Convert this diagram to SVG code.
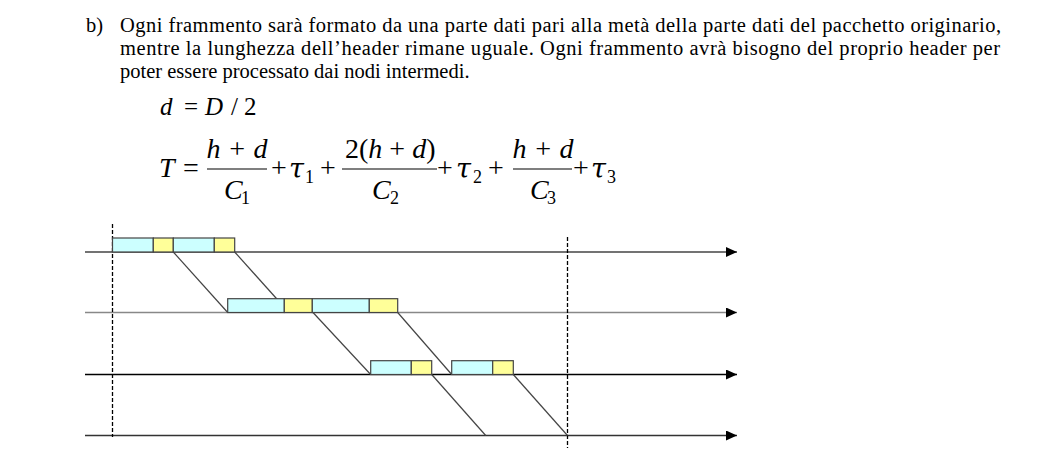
<svg xmlns="http://www.w3.org/2000/svg" width="1058" height="468" viewBox="0 0 1058 468">
<defs>
<marker id="arr" viewBox="0 0 11 10" refX="11" refY="5" markerWidth="11" markerHeight="10" markerUnits="userSpaceOnUse" orient="auto">
<path d="M0,0 L11,5 L0,10 Z" fill="#000"/>
</marker>
<style>
.t{font-family:"Liberation Serif","Times New Roman",serif;font-size:20.5px;fill:#000}
.m{font-family:"Liberation Serif","Times New Roman",serif;fill:#000}
.i{font-style:italic}
.g{font-family:"DejaVu Serif",serif;font-style:italic;font-size:27px}
.axis{fill:none;stroke-width:1.3}
.dash{stroke:#000;stroke-width:1.3;stroke-dasharray:4 2;fill:none}
.diag{stroke:#444;stroke-width:1.2;fill:none}
.data{fill:#CCFFFF;stroke:#444;stroke-width:1.2}
.hdr{fill:#FFFF99;stroke:#444;stroke-width:1.2}
.bar{stroke:#000;stroke-width:1.1}
</style>
</defs>
<rect width="1058" height="468" fill="#fff"/>
<g id="text">
<text class="t" x="86" y="32">b)</text>
<text class="t" x="120" y="32" textLength="881" lengthAdjust="spacing">Ogni frammento sarà formato da una parte dati pari alla metà della parte dati del pacchetto originario,</text>
<text class="t" x="120" y="55" textLength="880" lengthAdjust="spacing">mentre la lunghezza dell’header rimane uguale. Ogni frammento avrà bisogno del proprio header per</text>
<text class="t" x="120" y="77.5">poter essere processato dai nodi intermedi.</text>
</g>
<g id="eq1" class="m" font-size="25">
<text class="i" x="160" y="115">d</text>
<text x="184" y="115">=</text>
<text class="i" x="205" y="115">D</text>
<text x="231" y="115">/</text>
<text x="244" y="115">2</text>
</g>
<g id="eq2" class="m" font-size="28">
<text class="i" x="159" y="177">T</text>
<text x="183" y="177">=</text>
<line class="bar" x1="207" y1="169" x2="267" y2="169"/>
<text class="i" x="237" y="158" text-anchor="middle">h + d</text>
<text class="i" x="224" y="199">C</text>
<text x="241" y="204" font-size="18">1</text>
<text x="271" y="177">+</text>
<text class="g" x="289" y="178">τ</text>
<text x="305" y="183" font-size="18">1</text>
<text x="320" y="177">+</text>
<line class="bar" x1="342" y1="169" x2="437" y2="169"/>
<text x="345" y="158">2(<tspan class="i">h</tspan> + <tspan class="i">d</tspan>)</text>
<text class="i" x="372" y="199">C</text>
<text x="390" y="204" font-size="18">2</text>
<text x="437" y="177">+</text>
<text class="g" x="456" y="178">τ</text>
<text x="473" y="183" font-size="18">2</text>
<text x="488" y="177">+</text>
<line class="bar" x1="513" y1="169" x2="572" y2="169"/>
<text class="i" x="543" y="158" text-anchor="middle">h + d</text>
<text class="i" x="530" y="199">C</text>
<text x="547" y="204" font-size="18">3</text>
<text x="573" y="177">+</text>
<text class="g" x="591" y="178">τ</text>
<text x="607" y="183" font-size="18">3</text>
</g>
<g id="axes">
<line class="axis" x1="85" y1="252" x2="737" y2="252" stroke="#444" marker-end="url(#arr)"/>
<line class="axis" x1="85" y1="312.5" x2="737" y2="312.5" stroke="#888" stroke-width="1" marker-end="url(#arr)"/>
<line class="axis" x1="85" y1="374.5" x2="737" y2="374.5" stroke="#000" marker-end="url(#arr)"/>
<line class="axis" x1="85" y1="435.5" x2="737" y2="435.5" stroke="#333" marker-end="url(#arr)"/>
<line class="dash" x1="112.5" y1="224" x2="112.5" y2="437"/>
<line class="dash" x1="567.5" y1="237" x2="567.5" y2="448"/>
</g>
<g id="connectors">
<line class="diag" x1="173.3" y1="252" x2="227.7" y2="312.5"/>
<line class="diag" x1="234.7" y1="252" x2="289" y2="312.5"/>
<line class="diag" x1="313" y1="312.5" x2="370.7" y2="374.5"/>
<line class="diag" x1="397.7" y1="312.5" x2="451.7" y2="374.5"/>
<line class="diag" x1="431.7" y1="374.5" x2="485.7" y2="435.5"/>
<line class="diag" x1="513.3" y1="374.5" x2="567.5" y2="435.5"/>
</g>
<g id="link1">
<rect class="data" x="112.5" y="238" width="40.8" height="14"/>
<rect class="hdr" x="153.3" y="238" width="20" height="14"/>
<rect class="data" x="173.3" y="238" width="41" height="14"/>
<rect class="hdr" x="214.3" y="238" width="20.4" height="14"/>
</g>
<g id="link2">
<rect class="data" x="227.7" y="298.7" width="56.6" height="13.8"/>
<rect class="hdr" x="284.3" y="298.7" width="28" height="13.8"/>
<rect class="data" x="312.3" y="298.7" width="57" height="13.8"/>
<rect class="hdr" x="369.3" y="298.7" width="28.4" height="13.8"/>
</g>
<g id="link3">
<rect class="data" x="370.7" y="360.7" width="40.6" height="13.8"/>
<rect class="hdr" x="411.3" y="360.7" width="20.4" height="13.8"/>
<rect class="data" x="451.7" y="360.7" width="41" height="13.8"/>
<rect class="hdr" x="492.7" y="360.7" width="20.6" height="13.8"/>
</g>
</svg>
